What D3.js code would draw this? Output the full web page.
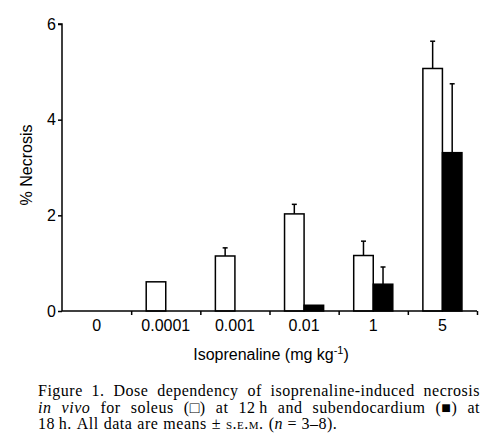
<!DOCTYPE html>
<html>
<head>
<meta charset="utf-8">
<script src="https://cdn.jsdelivr.net/npm/d3@7"></script>
<style>
  body { margin: 0; background: #fff; }
  svg text { fill: #000; }
</style>
</head>
<body>
<div id="chart"></div>
<script>
// doses on the x axis (mg/kg)
var doses = ["0", "0.0001", "0.001", "0.01", "1", "5"];
// soleus at 12 h (open bars)
var soleus = [0, 0.61, 1.15, 2.03, 1.16, 5.07];
var soleusSem = [0, 0, 0.17, 0.2, 0.3, 0.57];
// subendocardium at 18 h (filled bars)
var subendo = [0, 0, 0, 0.12, 0.56, 3.31];
var subendoSem = [0, 0, 0, 0, 0.36, 1.44];
var yTicks = [0, 2, 4, 6];
var series = ["soleus", "subendo"];

var W = 493, H = 443;
var m = {left: 62, right: 16, top: 24, bottom: 132};

var svg = d3.select("#chart").append("svg")
    .attr("width", W).attr("height", H);

var x = d3.scaleBand().domain(doses)
    .range([m.left, W - m.right])
    .paddingInner(0.435).paddingOuter(0.2175);
var xs = d3.scaleBand().domain(series).range([0, x.bandwidth()]);
var y = d3.scaleLinear().domain([0, 6]).range([H - m.bottom, m.top]);
// boundaries between dose groups, for the tick marks
var xb = d3.scaleLinear().domain([0, doses.length]).range([m.left, W - m.right]);

var rows = doses.map(function(d, i) {
  return [
    {dose: d, s: "soleus", v: soleus[i], e: soleusSem[i]},
    {dose: d, s: "subendo", v: subendo[i], e: subendoSem[i]}
  ];
}).flat().filter(function(d) { return d.v > 0; });

var g = svg.append("g");

// error bars first (only upper half shown)
var eb = g.selectAll(".err").data(rows.filter(function(d) { return d.e > 0; }))
  .enter().append("g").attr("class", "err");
eb.append("line")
  .attr("x1", function(d) { return x(d.dose) + xs(d.s) + xs.bandwidth() / 2; })
  .attr("x2", function(d) { return x(d.dose) + xs(d.s) + xs.bandwidth() / 2; })
  .attr("y1", function(d) { return y(d.v); })
  .attr("y2", function(d) { return y(d.v + d.e); })
  .attr("stroke", "#000").attr("stroke-width", 1.5);
eb.append("line")
  .attr("x1", function(d) { return x(d.dose) + xs(d.s) + xs.bandwidth() / 2 - 2.5; })
  .attr("x2", function(d) { return x(d.dose) + xs(d.s) + xs.bandwidth() / 2 + 2.5; })
  .attr("y1", function(d) { return y(d.v + d.e); })
  .attr("y2", function(d) { return y(d.v + d.e); })
  .attr("stroke", "#000").attr("stroke-width", 1.5);

g.selectAll(".bar").data(rows).enter().append("rect")
  .attr("class", "bar")
  .attr("x", function(d) { return x(d.dose) + xs(d.s); })
  .attr("width", xs.bandwidth())
  .attr("y", function(d) { return y(d.v); })
  .attr("height", function(d) { return y(0) - y(d.v); })
  .attr("fill", function(d) { return d.s == "soleus" ? "#fff" : "#000"; })
  .attr("stroke", "#000").attr("stroke-width", 1.5);

// y axis
var ya = svg.append("g")
  .attr("transform", "translate(" + m.left + ",0)")
  .call(d3.axisLeft(y).tickValues(yTicks).tickSize(4).tickPadding(2).tickFormat(d3.format("d")));
ya.select(".domain").attr("stroke-width", 1.5).attr("d", "M-4," + y(6) + "H0V" + y(0));

// x axis: labels centred on groups, ticks between groups
var xa = svg.append("g")
  .attr("transform", "translate(0," + y(0) + ")")
  .call(d3.axisBottom(x).tickSize(0).tickPadding(9));
xa.select(".domain").attr("stroke-width", 1.5).attr("d", "M" + m.left + ",0H" + (W - m.right));
var xt = svg.append("g")
  .attr("transform", "translate(0," + y(0) + ")")
  .call(d3.axisBottom(xb).tickValues([1, 2, 3, 4, 5, 6]).tickSize(4).tickFormat(""));
xt.select(".domain").remove();

svg.selectAll(".tick line").attr("stroke-width", 1.5);
svg.selectAll(".tick text")
  .style("font-family", "'Liberation Sans', Arial, sans-serif")
  .style("font-size", "16px");

// axis titles
svg.append("text")
  .attr("transform", "translate(32,165) rotate(-90)")
  .attr("text-anchor", "middle")
  .style("font-family", "'Liberation Sans', Arial, sans-serif")
  .style("font-size", "16px")
  .text("% Necrosis");

var xt2 = svg.append("text")
  .attr("x", 271).attr("y", 360)
  .attr("text-anchor", "middle")
  .style("font-family", "'Liberation Sans', Arial, sans-serif")
  .style("font-size", "16px");
xt2.append("tspan").text("Isoprenaline (mg kg");
xt2.append("tspan").attr("dy", -6).style("font-size", "11px").text("-1");
xt2.append("tspan").attr("dy", 6).text(")");

// caption, justified like the printed figure legend
var capLeft = 38, capRight = 480;
var capLines = [
  {y: 396, just: true, words: [
    [["Figure"]], [["1."]], [["Dose"]], [["dependency"]], [["of"]],
    [["isoprenaline-induced"]], [["necrosis"]]]},
  {y: 412.5, just: true, words: [
    [["in", "i"]], [["vivo", "i"]], [["for"]], [["soleus"]], [["(\u25A1)"]], [["at"]],
    [["12\u2009h"]], [["and"]], [["subendocardium"]], [["(\u25A0)"]], [["at"]]]},
  {y: 429, just: false, words: [
    [["18\u2009h."]], [["All"]], [["data"]], [["are"]], [["means"]], [["\u00B1"]],
    [["s.e.m.", "sc"]], [["("], ["n", "i"], ["\u00A0=\u00A03\u20138)."]]]}
];

function addWord(parent, segs) {
  var t = parent.append("text")
    .style("font-family", "'Liberation Serif', 'Times New Roman', serif")
    .style("font-size", "16px")
    .style("letter-spacing", "0.5px");
  segs.forEach(function(s) {
    var ts = t.append("tspan").text(s[0]);
    if (s[1] == "i") ts.style("font-style", "italic");
    if (s[1] == "sc") ts.style("font-variant", "small-caps");
  });
  return t;
}

capLines.forEach(function(line) {
  var lg = svg.append("g");
  var texts = line.words.map(function(w) { return addWord(lg, w); });
  var widths = texts.map(function(t) { return t.node().getComputedTextLength(); });
  var total = d3.sum(widths);
  var gap = line.just ? (capRight - capLeft - total) / (texts.length - 1) : 5;
  var cx = capLeft;
  texts.forEach(function(t, i) {
    t.attr("x", cx).attr("y", line.y);
    cx += widths[i] + gap;
  });
});
</script>
</body>
</html>
